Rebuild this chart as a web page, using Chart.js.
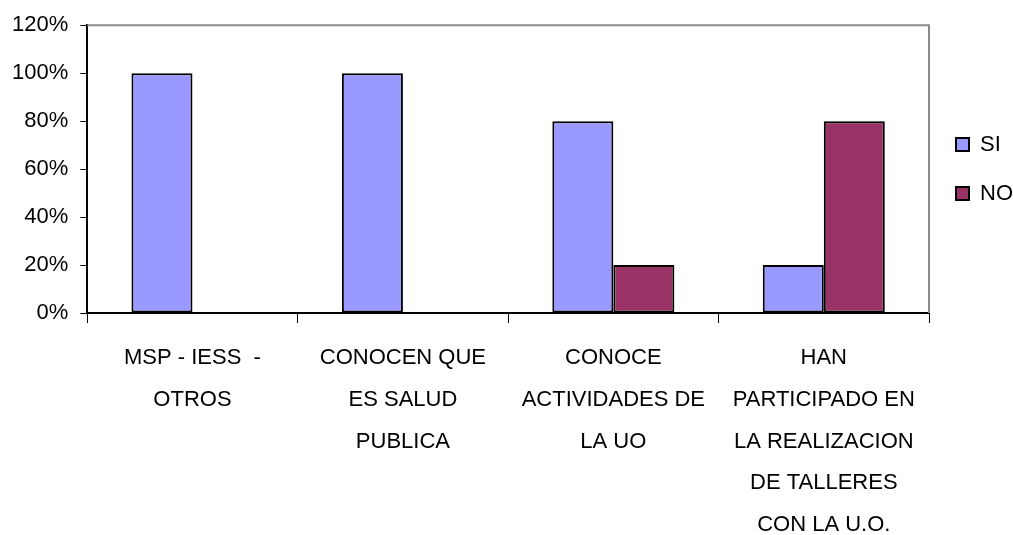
<!DOCTYPE html>
<html>
<head>
<meta charset="utf-8">
<script src="https://cdn.jsdelivr.net/npm/chart.js@4.4.0/dist/chart.umd.min.js"></script>
<style>
  html, body { margin:0; padding:0; background:#fff; }
  canvas { display:block; }
</style>
</head>
<body>
<canvas id="chart" width="1013" height="535"></canvas>
<script>
// data
const categories = [
  ["MSP - IESS  -", "OTROS"],
  ["CONOCEN QUE", "ES SALUD", "PUBLICA"],
  ["CONOCE", "ACTIVIDADES DE", "LA UO"],
  ["HAN", "PARTICIPADO EN", "LA REALIZACION", "DE TALLERES", "CON LA U.O."]
];
const siValues = [1.0, 1.0, 0.8, 0.2];
const noValues = [0, 0, 0.2, 0.8];
const yTicks   = [0, 0.2, 0.4, 0.6, 0.8, 1.0, 1.2];

const FONT = "'Liberation Sans', Arial, sans-serif";

// gray frame on top and right of the plot area
const frame = {
  id: "frame",
  afterDraw(chart) {
    const a = chart.chartArea, c = chart.ctx;
    c.save();
    c.strokeStyle = "#8c8c8c";
    c.lineWidth = 2;
    c.beginPath();
    c.moveTo(a.left, a.top); c.lineTo(a.right, a.top); c.lineTo(a.right, a.bottom);
    c.stroke();
    c.restore();
  }
};

new Chart(document.getElementById("chart"), {
  type: "bar",
  data: {
    labels: categories,
    datasets: [
      { label:"SI", data: siValues, backgroundColor:"#9999ff", borderColor:"#000", borderWidth:2, borderSkipped:false },
      { label:"NO", data: noValues, backgroundColor:"#993366", borderColor:"#000", borderWidth:2, borderSkipped:false }
    ]
  },
  options: {
    responsive:false,
    animation:false,
    devicePixelRatio:1,
    categoryPercentage:0.58,
    barPercentage:1.0,
    layout:{ padding:{ top:10, right:-10, left:0, bottom:-25 } },
    plugins:{
      tooltip:{ enabled:false },
      legend:{
        position:"right",
        fullSize:false,
        labels:{
          color:"#000",
          font:{ family:FONT, size:22 },
          boxWidth:13, boxHeight:13,
          padding:27
        }
      }
    },
    scales:{
      x:{
        grid:{ offset:true, drawOnChartArea:false, color:"#000", lineWidth:1, tickLength:10, tickWidth:1 },
        border:{ color:"#000", width:2 },
        ticks:{ color:"#000", font:{ family:FONT, size:22, lineHeight:1.9 }, maxRotation:0, autoSkip:false, padding:14 }
      },
      y:{
        min:0, max:1.2,
        afterBuildTicks(axis){ axis.ticks = yTicks.map(v => ({ value:v })); },
        grid:{ drawOnChartArea:false, color:"#000", tickLength:7 },
        border:{ color:"#000", width:2 },
        ticks:{ color:"#000", font:{ family:FONT, size:22 }, padding:12,
          callback:v => Math.round(v*100) + "%" }
      }
    }
  },
  plugins:[frame]
});
</script>
</body>
</html>
